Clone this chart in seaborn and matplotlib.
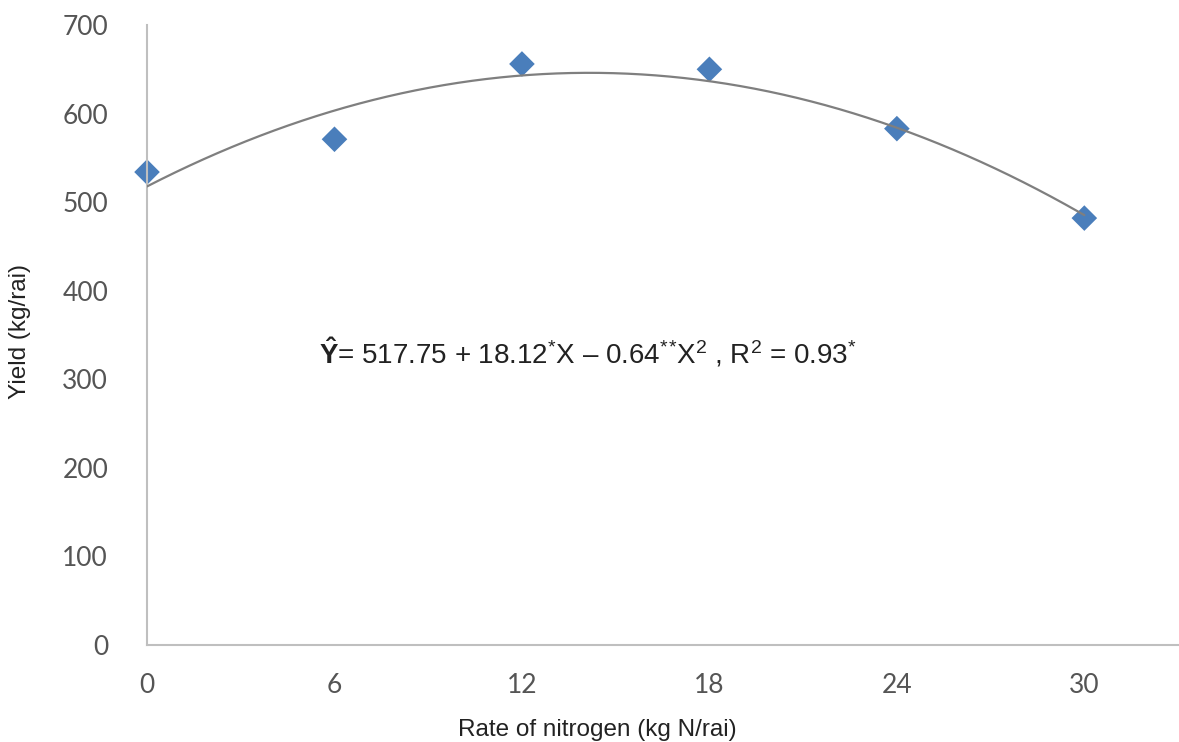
import matplotlib
matplotlib.use('Agg')
import matplotlib.pyplot as plt
import numpy as np
import pandas as pd
import seaborn as sns

# data
nitrogen_rate = [0, 6, 12, 18, 24, 30]
yield_kg = [534, 571, 656, 650, 583, 482]

# quadratic fit printed on the chart: Y = b0 + b1*X + b2*X^2
fit_coefs = [517.75, 18.12, -0.64]

x_ticks = [0, 6, 12, 18, 24, 30]
y_ticks = [0, 100, 200, 300, 400, 500, 600, 700]

EQUATION = ('$\\mathbf{\\hat{Y}}$= 517.75 + 18.12$^{*}$X – 0.64$^{*}$$^{*}$X$^{2}$'
            ' , R$^{2}$ = 0.93$^{*}$')


def main():
    sns.set_theme(style='white')
    plt.rcParams['font.family'] = ['Liberation Sans', 'DejaVu Sans']
    plt.rcParams['mathtext.fontset'] = 'custom'
    plt.rcParams['mathtext.rm'] = 'Liberation Sans'
    plt.rcParams['mathtext.it'] = 'Liberation Sans'
    plt.rcParams['mathtext.bf'] = 'Liberation Sans:bold'

    fig = plt.figure(figsize=(11.79, 7.42), dpi=100)
    ax = fig.add_axes([0.1247, 0.1307, 0.8745, 0.8356])

    df = pd.DataFrame({'rate': nitrogen_rate, 'yield': yield_kg})
    sns.scatterplot(data=df, x='rate', y='yield', marker='D', s=170,
                    color='#4a7ebb', edgecolor='none', ax=ax, zorder=2,
                    clip_on=False)

    xs = np.linspace(min(nitrogen_rate), max(nitrogen_rate), 200)
    ys = np.polyval(fit_coefs[::-1], xs)
    sns.lineplot(x=xs, y=ys, color='#7f7f7f', linewidth=1.6, ax=ax, zorder=3)

    ax.set_xlim(0, 33)
    ax.set_ylim(0, 700)
    ax.set_xticks(x_ticks)
    ax.set_yticks(y_ticks)
    ax.tick_params(axis='both', length=0, labelsize=19, colors='#555555')
    ax.tick_params(axis='y', pad=28)
    ax.tick_params(axis='x', pad=20)
    for lbl in ax.get_xticklabels() + ax.get_yticklabels():
        lbl.set_family(['Lato', 'DejaVu Sans'])

    for side in ['top', 'right']:
        ax.spines[side].set_visible(False)
    for side in ['left', 'bottom']:
        ax.spines[side].set_color('#bfbfbf')
        ax.spines[side].set_linewidth(1.5)

    ax.set_xlabel('Rate of nitrogen (kg N/rai)', fontsize=17.5, color='#222222')
    ax.xaxis.set_label_coords(0.437, -0.119)
    ax.set_ylabel('Yield (kg/rai)', fontsize=17.5, color='#222222')
    ax.yaxis.set_label_coords(-0.113, 0.505)

    ax.text(14.1, 330, EQUATION, fontsize=20, color='#222222', ha='center', va='center')

    fig.savefig('out.png', dpi=100)
    plt.close(fig)


if __name__ == '__main__':
    main()
